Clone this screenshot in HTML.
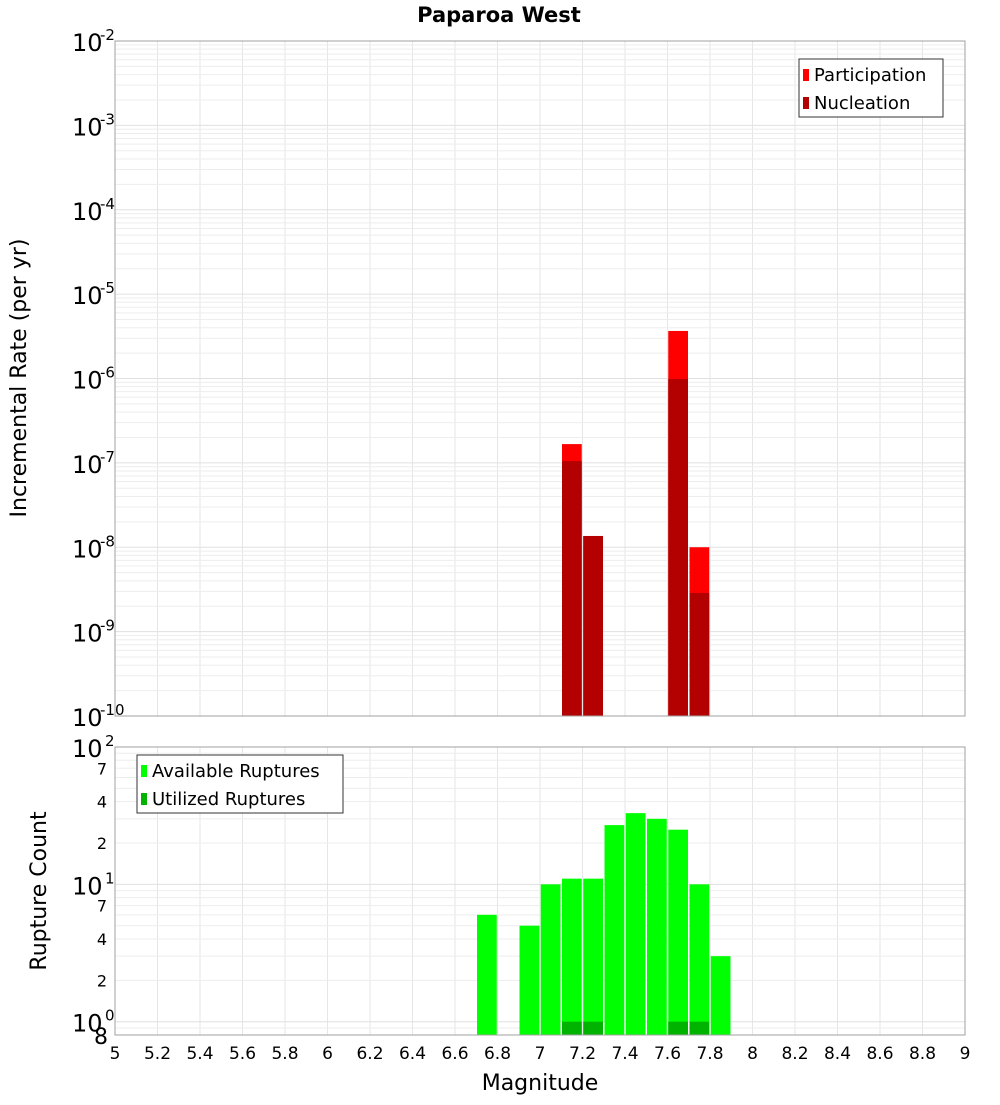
<!DOCTYPE html>
<html><head><meta charset="utf-8"><style>
body{margin:0;background:#fff;width:1000px;height:1100px;overflow:hidden}
svg text{font-family:"DejaVu Sans","Liberation Sans",sans-serif;fill:#000}
</style></head><body>
<svg id="chart" width="1000" height="1100" xmlns="http://www.w3.org/2000/svg">
<text x="499" y="22" text-anchor="middle" font-size="21" font-weight="bold">Paparoa West</text>
<g id="topg"></g><g id="botg"></g>
<text transform="translate(26,378) rotate(-90)" text-anchor="middle" font-size="22">Incremental Rate (per yr)</text>
<text transform="translate(46,891) rotate(-90)" text-anchor="middle" font-size="22">Rupture Count</text>
<text x="540" y="1090" text-anchor="middle" font-size="22">Magnitude</text>
</svg>
<script>
const binCenters=[6.75,6.95,7.05,7.15,7.25,7.35,7.45,7.55,7.65,7.75,7.85];
const rateMags=[7.15,7.25,7.65,7.75];
const participation=[1.67e-7,1.36e-8,3.66e-6,1.0e-8];
const nucleation=[1.05e-7,1.36e-8,9.86e-7,2.87e-9];
const available=[6,5,10,11,11,27,33,30,25,10,3];
const utilizedMags=[7.15,7.25,7.65,7.75];
const utilized=[1,1,1,1];
const xTicks=[5,5.2,5.4,5.6,5.8,6,6.2,6.4,6.6,6.8,7,7.2,7.4,7.6,7.8,8,8.2,8.4,8.6,8.8,9];

const NS="http://www.w3.org/2000/svg";
const L=115,R=965;
const x=m=>L+(m-5)/4*(R-L);
const yT=v=>41+(-2-Math.log10(v))*(675/8);
const bTop=747,bBot=1035,bMin=Math.log10(0.8);
const yB=v=>bBot-(Math.log10(v)-bMin)/(2-bMin)*(bBot-bTop);
function el(p,t,a){const e=document.createElementNS(NS,t);for(const k in a)e.setAttribute(k,a[k]);p.appendChild(e);return e;}
const gTop=document.getElementById('topg'),gBot=document.getElementById('botg');

function grid(g,y0,y1,yf,decs){
  for(let m=5;m<=9.001;m+=0.2){const l=el(g,'line',{x1:x(m),x2:x(m),y1:y0,y2:y1,stroke:'#e6e6e6'});
  
  }
  decs.forEach(d=>{for(let k=1;k<10;k++){const v=k*Math.pow(10,d);const yy=yf(v);if(yy<y0-0.5||yy>y1+0.5)continue;
    const l=el(g,'line',{x1:L,x2:R,y1:yy,y2:yy,stroke:k==1?'#e0e0e0':'#ededed'});
    
    }});
}
grid(gTop,41,716,yT,[-10,-9,-8,-7,-6,-5,-4,-3,-2]);
grid(gBot,747,1035,yB,[-1,0,1,2]);

const bw=(x(5.1)-x(5))-1.5;
rateMags.forEach((m,i)=>{
  const p=el(gTop,'rect',{x:x(m)-bw/2,y:yT(participation[i]),width:bw,height:716-yT(participation[i]),fill:'#ff0000'});
  
  
  const n=el(gTop,'rect',{x:x(m)-bw/2,y:yT(nucleation[i]),width:bw,height:716-yT(nucleation[i]),fill:'#b30000'});
  
  
});
binCenters.forEach((m,i)=>{
  const b=el(gBot,'rect',{x:x(m)-bw/2,y:yB(available[i]),width:bw,height:bBot-yB(available[i]),fill:'#00ff00'});
  
  
});
utilizedMags.forEach((m,i)=>{
  const b=el(gBot,'rect',{x:x(m)-bw/2,y:yB(utilized[i]),width:bw,height:bBot-yB(utilized[i]),fill:'#00b300'});
  
  
});
[[gTop,41,716],[gBot,747,1035]].forEach(([g,a,b])=>{const f=el(g,'rect',{x:L,y:a,width:R-L,height:b-a,fill:'none',stroke:'#a0a0a0'});

});

for(let d=-2;d>=-10;d--){const yy=yT(Math.pow(10,d));
  const t=el(gTop,'text',{x:72,y:yy+10,'font-size':24});t.textContent='10';
  
  
  const s=el(gTop,'text',{x:100,y:yy-1,'font-size':15});s.textContent=String(d);
  
  }
[[100,'2'],[10,'1'],[1,'0']].forEach(([v,e])=>{const yy=yB(v);
  const t=el(gBot,'text',{x:72,y:yy+10,'font-size':24});t.textContent='10';
  
  
  const s=el(gBot,'text',{x:105,y:yy-1,'font-size':15});s.textContent=e;
  
  });
[[70,'7'],[40,'4'],[20,'2'],[7,'7'],[4,'4'],[2,'2'],[0.8,'8']].forEach(([v,lab])=>{const yy=yB(v);
  const t=el(gBot,'text',{x:v==0.8?108:107,y:yy+(v==0.8?9:6),'font-size':v==0.8?22:16,'text-anchor':'end'});t.textContent=lab;
  
  });
xTicks.forEach(m=>{const t=el(gBot,'text',{x:x(m),y:1059,'font-size':17,'text-anchor':'middle'});
  t.textContent=String(m);
  
  });

function legend(g,x0,y0,w,items,name){
  const lg=el(g,'g',{});
  
  
  el(lg,'rect',{x:x0,y:y0,width:w,height:58,fill:'#fff',stroke:'#333'});
  items.forEach(([c,lab],i)=>{el(lg,'rect',{x:x0+4,y:y0+10+i*28,width:6,height:12,fill:c});
    const t=el(lg,'text',{x:x0+15,y:y0+22+i*28,'font-size':18});t.textContent=lab;
    
    });
}
legend(gTop,799,59,144,[['#ff0000','Participation'],['#b30000','Nucleation']],'top-legend');
legend(gBot,137,755,206,[['#00ff00','Available Ruptures'],['#00b300','Utilized Ruptures']],'bottom-legend');
</script>
</body></html>
